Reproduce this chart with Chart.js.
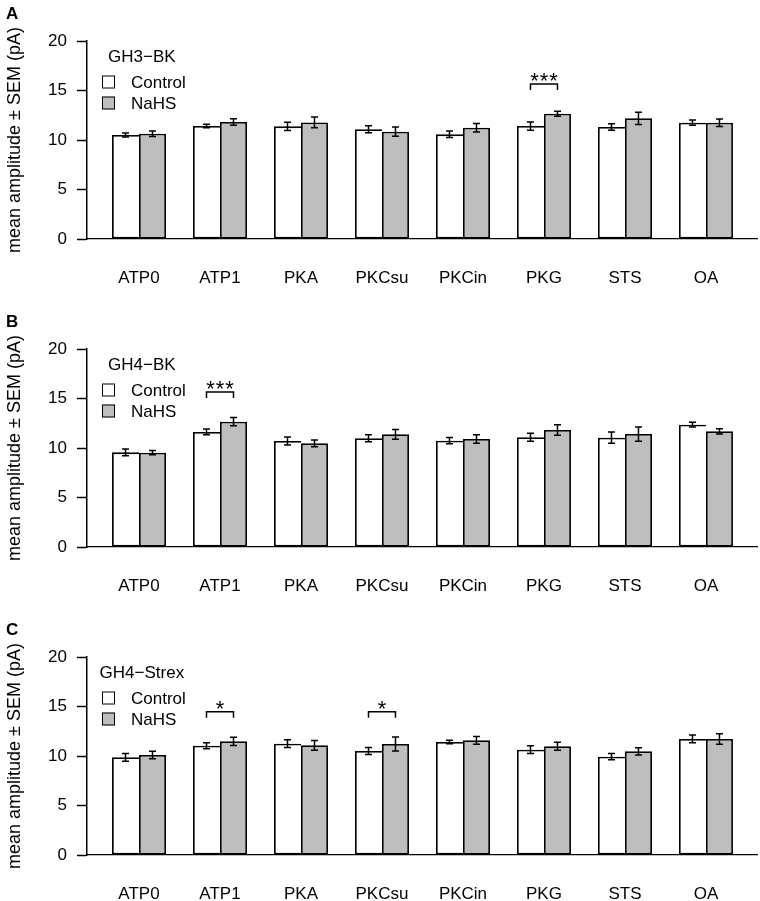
<!DOCTYPE html>
<html>
<head>
<meta charset="utf-8">
<title>Mean amplitude by treatment</title>
<script src="https://cdn.jsdelivr.net/npm/chart.js@4.4.1/dist/chart.umd.min.js"></script>
<style>
  html, body { margin: 0; padding: 0; background: #fff; }
  #wrap { position: relative; width: 760px; height: 901px; overflow: hidden; }
  .panel { position: absolute; left: 0; width: 760px; height: 285px; }
</style>
</head>
<body>
<div id="wrap">
  <div class="panel" style="top:0px"><canvas id="panelA" width="760" height="285"></canvas></div>
  <div class="panel" style="top:308px"><canvas id="panelB" width="760" height="285"></canvas></div>
  <div class="panel" style="top:616px"><canvas id="panelC" width="760" height="285"></canvas></div>
</div>
<script>
const categories = ['ATP0', 'ATP1', 'PKA', 'PKCsu', 'PKCin', 'PKG', 'STS', 'OA'];
const yTicks = [0, 5, 10, 15, 20];
const seriesNames = ['Control', 'NaHS'];
const yTitle = 'mean amplitude \u00b1 SEM (pA)';

// panel A: GH3-BK
const controlA = [10.50, 11.41, 11.38, 11.08, 10.57, 11.41, 11.31, 11.75];
const semControlA = [0.20, 0.18, 0.42, 0.35, 0.33, 0.42, 0.33, 0.27];
const nahsA = [10.64, 11.82, 11.78, 10.84, 11.24, 12.66, 12.19, 11.75];
const semNahsA = [0.28, 0.33, 0.55, 0.47, 0.42, 0.25, 0.62, 0.38];
const sigCatsA = [5];
const sigStarsA = ['***'];
const sigLevelA = [15.66];

// panel B: GH4-BK
const controlB = [9.56, 11.62, 10.71, 10.98, 10.74, 11.08, 11.04, 12.36];
const semControlB = [0.34, 0.29, 0.40, 0.35, 0.32, 0.40, 0.57, 0.24];
const nahsB = [9.53, 12.66, 10.47, 11.38, 10.91, 11.82, 11.41, 11.68];
const semNahsB = [0.22, 0.42, 0.35, 0.50, 0.42, 0.52, 0.72, 0.27];
const sigCatsB = [1];
const sigStarsB = ['***'];
const sigLevelB = [15.66];

// panel C: GH4-Strex
const controlC = [9.87, 11.04, 11.25, 10.50, 11.41, 10.64, 9.93, 11.72];
const semControlC = [0.39, 0.30, 0.39, 0.35, 0.17, 0.40, 0.32, 0.39];
const nahsC = [10.10, 11.48, 11.08, 11.21, 11.58, 10.98, 10.47, 11.72];
const semNahsC = [0.39, 0.42, 0.49, 0.71, 0.39, 0.40, 0.37, 0.54];
const sigCatsC = [1, 3];
const sigStarsC = ['*', '*'];
const sigLevelC = [14.47, 14.47];

const FONT = '"Liberation Sans", Arial, Helvetica, sans-serif';

// error bars (mean +/- SEM) on top of every bar
const errorBars = {
    id: 'errorBars',
    afterDatasetsDraw(chart) {
        const ctx = chart.ctx;
        const y = chart.scales.y;
        ctx.save();
        ctx.strokeStyle = '#000';
        ctx.lineWidth = 1.5;
        chart.data.datasets.forEach((ds, d) => {
            chart.getDatasetMeta(d).data.forEach((bar, i) => {
                const m = ds.data[i].y, e = ds.sem[i];
                const top = y.getPixelForValue(m + e);
                const bot = y.getPixelForValue(m - e);
                ctx.beginPath();
                ctx.moveTo(bar.x, top); ctx.lineTo(bar.x, bot);
                ctx.moveTo(bar.x - 3.5, top); ctx.lineTo(bar.x + 3.5, top);
                ctx.moveTo(bar.x - 3.5, bot); ctx.lineTo(bar.x + 3.5, bot);
                ctx.stroke();
            });
        });
        ctx.restore();
    }
};

// significance brackets between the two bars of a group
const signif = {
    id: 'signif',
    afterDatasetsDraw(chart, args, opts) {
        const ctx = chart.ctx;
        const y = chart.scales.y;
        const a = chart.getDatasetMeta(0).data;
        const b = chart.getDatasetMeta(1).data;
        ctx.save();
        ctx.strokeStyle = '#000';
        ctx.fillStyle = '#000';
        ctx.lineWidth = 1.5;
        ctx.font = '22px ' + FONT;
        ctx.textAlign = 'center';
        ctx.textBaseline = 'alphabetic';
        opts.cats.forEach((c, k) => {
            const x1 = a[c].x, x2 = b[c].x;
            const top = y.getPixelForValue(opts.level[k]);
            const foot = y.getPixelForValue(opts.level[k] - 0.6);
            ctx.beginPath();
            ctx.moveTo(x1, foot); ctx.lineTo(x1, top);
            ctx.lineTo(x2, top); ctx.lineTo(x2, foot);
            ctx.stroke();
            // spread the stars a little like the original
            const s = opts.stars[k];
            const step = 9.5;
            const x0 = (x1 + x2) / 2 - (s.length - 1) * step / 2;
            for (let j = 0; j < s.length; j++) ctx.fillText(s[j], x0 + j * step, top + 4);
        });
        ctx.restore();
    }
};

// R-style legend with a centred title, inside the plot area
const keyBox = {
    id: 'keyBox',
    afterDraw(chart, args, opts) {
        const ctx = chart.ctx;
        const ca = chart.chartArea;
        ctx.save();
        ctx.font = '17px ' + FONT;
        ctx.textBaseline = 'middle';
        const left = ca.left + 15;
        const widths = chart.data.datasets.map(ds => ctx.measureText(ds.label).width);
        const w = 29 + Math.max(...widths);
        ctx.fillStyle = '#000';
        ctx.textAlign = 'center';
        ctx.fillText(opts.title, left + w / 2 - 2, ca.top + 16);
        ctx.textAlign = 'left';
        ctx.lineWidth = 1;
        chart.data.datasets.forEach((ds, d) => {
            const cy = ca.top + 41 + d * 21;
            ctx.fillStyle = ds.backgroundColor;
            ctx.fillRect(left, cy - 6.5, 13, 13);
            ctx.strokeStyle = '#000';
            ctx.strokeRect(left + 0.5, cy - 6, 12, 12);
            ctx.fillStyle = '#000';
            ctx.fillText(ds.label, left + 29, cy + 1);
        });
        ctx.restore();
    }
};

function makePanel(canvasId, letter, cellLine, ctrl, ctrlSem, nahs, nahsSem, sigCats, sigStars, sigLevel) {
    const canvas = document.getElementById(canvasId);
    return new Chart(canvas.getContext('2d'), {
        type: 'bar',
        data: {
            datasets: [
                {
                    label: seriesNames[0],
                    data: ctrl.map((v, i) => ({ x: i, y: v })),
                    sem: ctrlSem,
                    backgroundColor: '#ffffff',
                    borderColor: '#000000',
                    borderWidth: 1.8,
                    borderSkipped: 'right'
                },
                {
                    label: seriesNames[1],
                    data: nahs.map((v, i) => ({ x: i, y: v })),
                    sem: nahsSem,
                    backgroundColor: '#bebebe',
                    borderColor: '#000000',
                    borderWidth: 1.8,
                    borderSkipped: false
                }
            ]
        },
        options: {
            responsive: false,
            animation: false,
            devicePixelRatio: 1,
            categoryPercentage: 2 / 3,
            barPercentage: 1,
            layout: { padding: { left: 6, right: 3, top: 0, bottom: 0 } },
            plugins: {
                legend: { display: false },
                tooltip: { enabled: false },
                title: {
                    display: true,
                    text: letter,
                    align: 'start',
                    color: '#000',
                    font: { family: FONT, size: 17, weight: 'bold', lineHeight: 1.2 },
                    padding: { top: 4, bottom: 16.6 }
                },
                keyBox: { title: cellLine },
                signif: { cats: sigCats, stars: sigStars, level: sigLevel }
            },
            scales: {
                x: {
                    type: 'linear',
                    offset: false,
                    bounds: 'data',
                    min: -0.642,
                    max: 7.63,
                    afterBuildTicks: s => { s.ticks = categories.map((c, i) => ({ value: i })); },
                    afterFit: s => { s.height = 46; },
                    border: { display: true, color: '#000', width: 1.3 },
                    grid: { display: false, offset: false },
                    ticks: {
                        callback: v => categories[v],
                        autoSkip: false,
                        maxRotation: 0,
                        padding: 21,
                        color: '#000',
                        font: { family: FONT, size: 17 }
                    }
                },
                y: {
                    min: 0,
                    max: 20,
                    afterBuildTicks: s => { s.ticks = yTicks.map(v => ({ value: v })); },
                    afterFit: s => { s.width = 81; },
                    border: { display: true, color: '#000', width: 1.5 },
                    grid: {
                        display: true,
                        drawOnChartArea: false,
                        drawTicks: true,
                        tickLength: 10,
                        tickColor: '#000',
                        tickWidth: 1.5
                    },
                    ticks: {
                        padding: 10,
                        color: '#000',
                        font: { family: FONT, size: 17 }
                    },
                    title: {
                        display: true,
                        text: yTitle,
                        color: '#000',
                        font: { family: FONT, size: 18, lineHeight: 1 },
                        padding: 0
                    }
                }
            }
        },
        plugins: [errorBars, signif, keyBox]
    });
}

makePanel('panelA', 'A', 'GH3\u2212BK', controlA, semControlA, nahsA, semNahsA, sigCatsA, sigStarsA, sigLevelA);
makePanel('panelB', 'B', 'GH4\u2212BK', controlB, semControlB, nahsB, semNahsB, sigCatsB, sigStarsB, sigLevelB);
makePanel('panelC', 'C', 'GH4\u2212Strex', controlC, semControlC, nahsC, semNahsC, sigCatsC, sigStarsC, sigLevelC);
</script>
</body>
</html>
